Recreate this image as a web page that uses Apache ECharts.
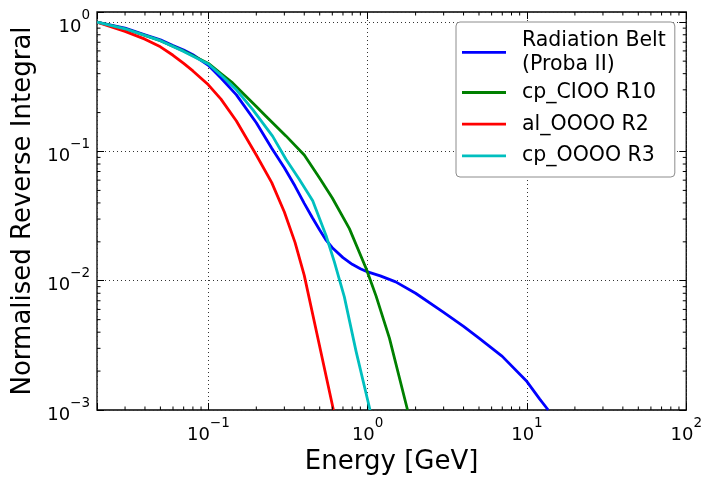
<!DOCTYPE html>
<html>
<head>
<meta charset="utf-8">
<title>Normalised Reverse Integral vs Energy</title>
<script src="https://cdn.jsdelivr.net/npm/echarts@6/dist/echarts.min.js"></script>
<style>
  html, body { margin: 0; padding: 0; background: #fff; }
  #chart { width: 705px; height: 480px; }
</style>
</head>
<body>
<div id="chart"></div>
<script>
// Energy points [GeV] and normalised reverse integral values per spectrum
const beltEnergy = [0.02, 0.03, 0.04, 0.05, 0.06, 0.07, 0.08, 0.1, 0.12, 0.15, 0.2, 0.25, 0.3, 0.35, 0.4, 0.45, 0.5, 0.55, 0.6, 0.7, 0.8, 0.9, 1.0, 1.2, 1.5, 2, 3, 4, 5, 7, 10, 12, 13.6];
const beltValue  = [1.0, 0.90, 0.80, 0.73, 0.66, 0.61, 0.56, 0.465, 0.37, 0.274, 0.167, 0.106, 0.0748, 0.054, 0.0397, 0.0307, 0.0247, 0.0205, 0.018, 0.0151, 0.0134, 0.0124, 0.0117, 0.0109, 0.0098, 0.008, 0.0057, 0.00443, 0.0036, 0.0026, 0.00166, 0.00122, 0.001];

const cioEnergy = [0.02, 0.03, 0.05, 0.07, 0.1, 0.12, 0.142, 0.2, 0.23, 0.307, 0.4, 0.5, 0.6, 0.768, 0.977, 1.13, 1.37, 1.78];
const cioValue  = [1.0, 0.89, 0.72, 0.60, 0.48, 0.40, 0.339, 0.223, 0.1875, 0.132, 0.094, 0.062, 0.0437, 0.0253, 0.0125, 0.0076, 0.0036, 0.001];

const alEnergy = [0.02, 0.03, 0.04, 0.05, 0.06, 0.07, 0.08, 0.1, 0.12, 0.15, 0.2, 0.25, 0.3, 0.35, 0.4, 0.5, 0.61];
const alValue  = [1.0, 0.85, 0.74, 0.645, 0.555, 0.48, 0.42, 0.328, 0.254, 0.172, 0.094, 0.0574, 0.034, 0.0198, 0.011, 0.0031, 0.001];

const cpEnergy = [0.02, 0.03, 0.05, 0.07, 0.1, 0.12, 0.15, 0.19, 0.253, 0.307, 0.372, 0.452, 0.548, 0.618, 0.714, 0.846, 1.035];
const cpValue  = [1.0, 0.89, 0.72, 0.595, 0.475, 0.39, 0.30, 0.211, 0.1315, 0.087, 0.061, 0.0416, 0.0224, 0.014, 0.0075, 0.00284, 0.001];

const seriesNames = ['Radiation Belt\n(Proba II)', 'cp_CIOO R10', 'al_OOOO R2', 'cp_OOOO R3'];
const seriesColors = ['#0000ff', '#008000', '#ff0000', '#00bfbf'];

const xRange = [0.02, 100];
const yRange = [0.001, 1.2];

const FONT = 'DejaVu Sans';

function pairs(xs, ys) { return xs.map((x, i) => [x, ys[i]]); }

// Tick labels as powers of ten with a superscript exponent
function powLabel(v) {
  const e = Math.log10(v);
  const r = Math.round(e);
  if (Math.abs(e - r) > 1e-6) return '';
  const exp = r < 0 ? '\u2212' + (-r) : String(r);
  return '{b|10}{e|' + exp + '}';
}
const powRich = {
  b: { fontSize: 18, fontFamily: FONT, color: '#000', lineHeight: 28, verticalAlign: 'bottom' },
  e: { fontSize: 13.5, fontFamily: FONT, color: '#000', lineHeight: 14, verticalAlign: 'top' }
};

// Minor tick positions (2..9 within each decade) inside an axis range
function minorTicks(lo, hi) {
  const out = [];
  for (let d = Math.floor(Math.log10(lo)); d < Math.ceil(Math.log10(hi)); d++) {
    for (let m = 2; m <= 9; m++) {
      const v = m * Math.pow(10, d);
      if (v > lo * 1.0001 && v < hi * 0.9999) out.push(+v.toPrecision(6));
    }
  }
  return out;
}

const MAJOR = 7, MINOR = 3.5;
const gridLine = { show: true, lineStyle: { color: '#333', width: 1, type: [1, 3] } };

const chart = echarts.init(document.getElementById('chart'), null, { renderer: 'canvas' });

const lineSeries = [
  pairs(beltEnergy, beltValue),
  pairs(cioEnergy, cioValue),
  pairs(alEnergy, alValue),
  pairs(cpEnergy, cpValue)
].map((d, i) => ({
  type: 'line',
  name: seriesNames[i],
  data: d,
  xAxisIndex: 0,
  yAxisIndex: 0,
  symbol: 'none',
  smooth: false,
  clip: true,
  color: seriesColors[i],
  lineStyle: { width: 2.8, color: seriesColors[i], join: 'round' },
  z: 4
}));

const xMinorSeries = {
  type: 'custom',
  name: 'xMinor',
  xAxisIndex: 0,
  yAxisIndex: 0,
  silent: true,
  clip: false,
  z: 5,
  data: minorTicks(xRange[0], xRange[1]).map(v => [v, 0.1]),
  renderItem(params, api) {
    const x = api.coord([api.value(0), 0.1])[0];
    const cs = params.coordSys;
    const st = { stroke: '#000', lineWidth: 1 };
    return {
      type: 'group',
      children: [
        { type: 'line', shape: { x1: x, y1: cs.y + cs.height, x2: x, y2: cs.y + cs.height - MINOR }, style: st },
        { type: 'line', shape: { x1: x, y1: cs.y, x2: x, y2: cs.y + MINOR }, style: st }
      ]
    };
  }
};

const yMinorSeries = {
  type: 'custom',
  name: 'yMinor',
  xAxisIndex: 0,
  yAxisIndex: 0,
  silent: true,
  clip: false,
  z: 5,
  data: minorTicks(yRange[0], yRange[1]).map(v => [1, v]),
  renderItem(params, api) {
    const y = api.coord([1, api.value(1)])[1];
    const cs = params.coordSys;
    const st = { stroke: '#000', lineWidth: 1 };
    return {
      type: 'group',
      children: [
        { type: 'line', shape: { x1: cs.x, y1: y, x2: cs.x + MINOR, y2: y }, style: st },
        { type: 'line', shape: { x1: cs.x + cs.width, y1: y, x2: cs.x + cs.width - MINOR, y2: y }, style: st }
      ]
    };
  }
};

// Legend entries: the two-line entry is tighter, single-line entries get extra vertical room
const legendData = seriesNames.map((n, i) => ({
  name: n,
  textStyle: i === 0
    ? { lineHeight: 24, padding: [0, 0, 0, 11] }
    : { lineHeight: 24, padding: [3.6, 0, 3.6, 11] }
}));

const option = {
  animation: false,
  backgroundColor: '#fff',
  textStyle: { fontFamily: FONT },
  grid: {
    left: 97, top: 12, width: 590, height: 400,
    show: true, borderColor: '#000', borderWidth: 1.3, backgroundColor: 'transparent'
  },
  legend: {
    data: legendData,
    orient: 'vertical',
    left: 456, top: 22,
    itemWidth: 44, itemHeight: 20, itemGap: 0.5,
    icon: 'path://M0,0H44V2.8H0Z',
    padding: [6.4, 9, 5.5, 6],
    backgroundColor: '#fff',
    borderColor: '#8c8c8c', borderWidth: 1, borderRadius: 4,
    textStyle: { fontSize: 20.5, fontFamily: FONT, color: '#000', lineHeight: 24, padding: [0, 0, 0, 11] },
    selectedMode: false
  },
  xAxis: [
    {
      type: 'log', logBase: 10, min: xRange[0], max: xRange[1], position: 'bottom',
      name: 'Energy [GeV]', nameLocation: 'middle', nameGap: 39,
      nameTextStyle: { fontSize: 26, fontFamily: FONT, color: '#000' },
      axisLine: { show: false },
      axisTick: { show: true, inside: true, length: MAJOR, lineStyle: { color: '#000', width: 1 } },
      axisLabel: { formatter: powLabel, rich: powRich, margin: 6, color: '#000' },
      splitLine: gridLine,
      minorTick: { show: false }, minorSplitLine: { show: false }
    },
    {
      type: 'log', logBase: 10, min: xRange[0], max: xRange[1], position: 'top',
      axisLine: { show: false },
      axisTick: { show: true, inside: true, length: MAJOR, lineStyle: { color: '#000', width: 1 } },
      axisLabel: { show: false },
      splitLine: { show: false }
    }
  ],
  yAxis: [
    {
      type: 'log', logBase: 10, min: yRange[0], max: yRange[1], position: 'left',
      name: 'Normalised Reverse Integral', nameLocation: 'middle', nameGap: 58,
      nameTextStyle: { fontSize: 26, fontFamily: FONT, color: '#000' },
      axisLine: { show: false },
      axisTick: { show: true, inside: true, length: MAJOR, lineStyle: { color: '#000', width: 1 } },
      axisLabel: { formatter: powLabel, rich: powRich, margin: 7, color: '#000' },
      splitLine: gridLine,
      minorTick: { show: false }, minorSplitLine: { show: false }
    },
    {
      type: 'log', logBase: 10, min: yRange[0], max: yRange[1], position: 'right',
      axisLine: { show: false },
      axisTick: { show: true, inside: true, length: MAJOR, lineStyle: { color: '#000', width: 1 } },
      axisLabel: { show: false },
      splitLine: { show: false }
    }
  ],
  series: lineSeries.concat([xMinorSeries, yMinorSeries])
};

chart.setOption(option);
</script>
</body>
</html>
